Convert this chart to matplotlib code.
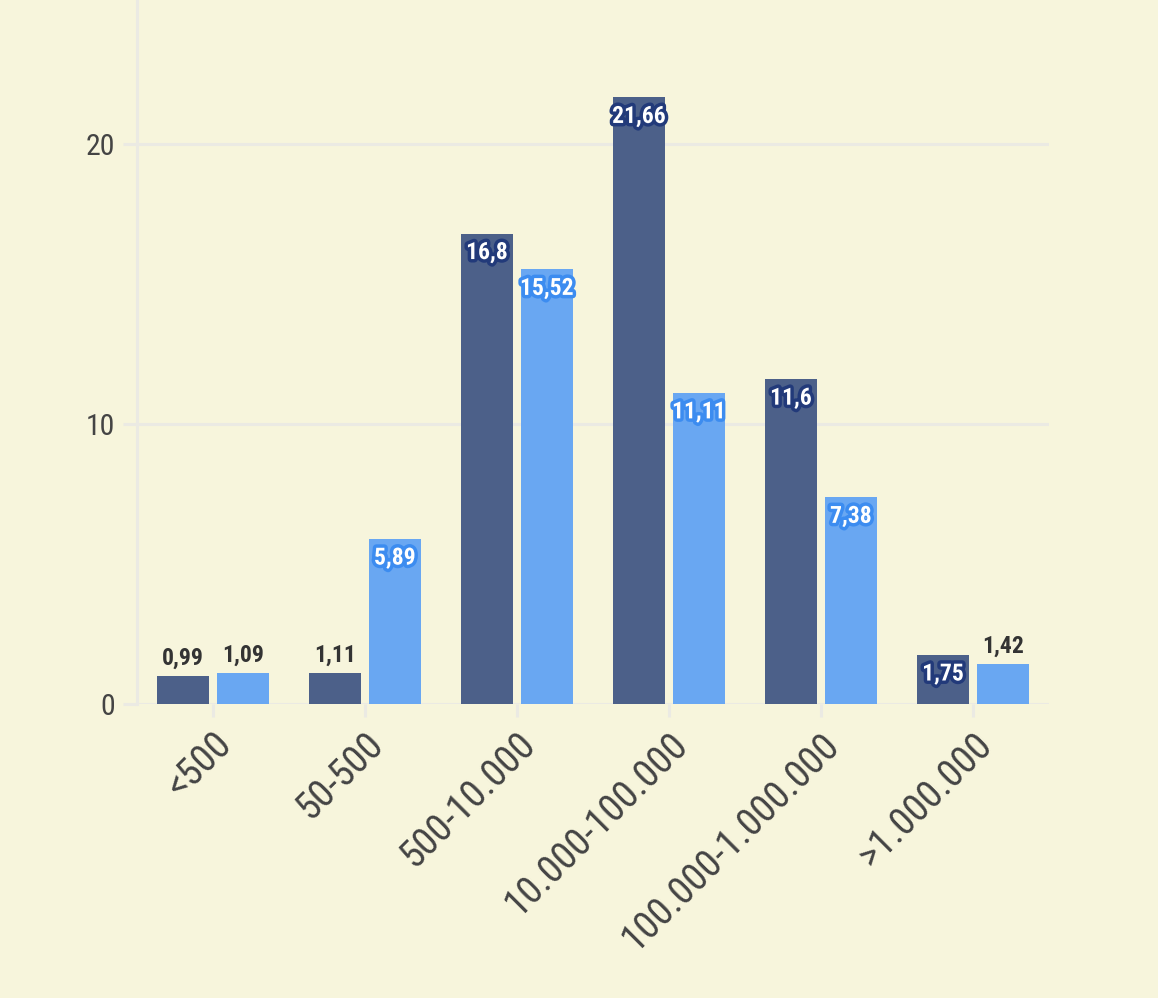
import numpy as np
import matplotlib.pyplot as plt
import matplotlib.patheffects as pe

plt.rcParams['font.family'] = ['Roboto Condensed', 'Roboto', 'DejaVu Sans']

categories = ['<500', '50-500', '500-10.000', '10.000-100.000', '100.000-1.000.000', '>1.000.000']
serie_a = np.array([0.99, 1.11, 16.8, 21.66, 11.6, 1.75])
serie_b = np.array([1.09, 5.89, 15.52, 11.11, 7.38, 1.42])
y_ticks = [0, 10, 20]

bg = '#F7F5DC'
grid_c = '#EBEAE3'
col_a = '#4C6089'
col_b = '#69A7F2'
stroke_a = '#223A7A'
stroke_b = '#3C8CF0'

fig = plt.figure(figsize=(11.58, 9.98), dpi=100, facecolor=bg)
ax = fig.add_axes([137/1158, 1 - 704/998, 912/1158, 704/998])
ax.set_facecolor(bg)

x = np.arange(len(categories))
w = 0.342
off = 0.197
bars_a = ax.bar(x - off, serie_a, w, color=col_a, zorder=3)
bars_b = ax.bar(x + off, serie_b, w, color=col_b, zorder=3)

ax.set_xlim(-0.5, len(categories) - 0.5)
ax.set_ylim(0, 25.14)

# 1px = 0.72pt at dpi 100
ax.set_yticks(y_ticks)
ax.set_yticklabels([str(t) for t in y_ticks])
ax.yaxis.grid(True, color=grid_c, linewidth=2.2, zorder=1)
ax.tick_params(axis='y', length=10, width=2.2, color=grid_c, labelsize=21.5,
               labelcolor='#444444', pad=5.8)
ax.set_xticks(x)
ax.set_xticklabels(categories, rotation=45, ha='right', rotation_mode='anchor')
ax.tick_params(axis='x', length=9.5, width=2.2, color=grid_c, labelsize=28,
               labelcolor='#444444', pad=6)

for s in ['top', 'right', 'bottom']:
    ax.spines[s].set_visible(False)
ax.spines['left'].set_color(grid_c)
ax.spines['left'].set_linewidth(2.2)


def fmt(v):
    return ('%g' % v).replace('.', ',')


def put_labels(bars, values, stroke):
    for b, v in zip(bars, values):
        cx = b.get_x() + b.get_width() / 2
        if v >= 1.5:
            ax.annotate(fmt(v), (cx, v), xytext=(0, -19), textcoords='offset pixels',
                        ha='center', va='center', fontsize=17, fontweight='bold',
                        color='white', zorder=5,
                        path_effects=[pe.withStroke(linewidth=5, foreground=stroke)])
        else:
            ax.annotate(fmt(v), (cx, v), xytext=(0, 18), textcoords='offset pixels',
                        ha='center', va='center', fontsize=17, fontweight='bold',
                        color='#333333', zorder=5)


put_labels(bars_a, serie_a, stroke_a)
put_labels(bars_b, serie_b, stroke_b)

fig.savefig('out.png', dpi=100, facecolor=bg)
